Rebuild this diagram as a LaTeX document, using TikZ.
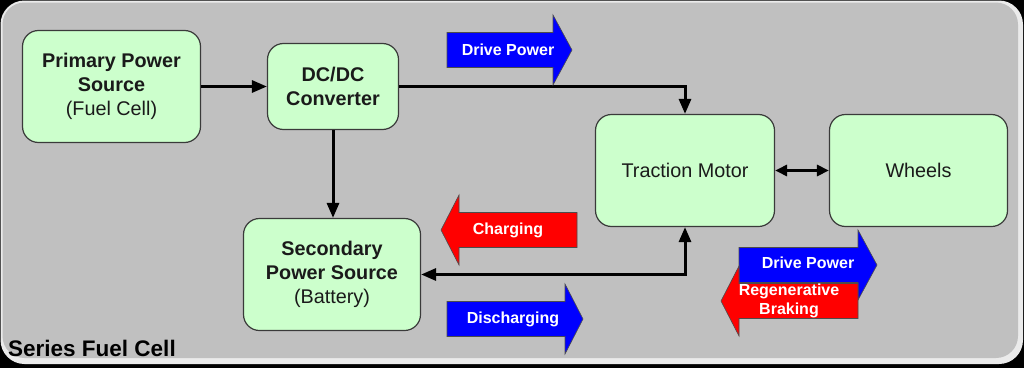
\documentclass[tikz,border=0pt]{standalone}
\usepackage{fontspec}
\setmainfont{Liberation Sans}
\usepackage{tikz}
\usetikzlibrary{arrows.meta,positioning,calc}
\definecolor{BoxGreen}{HTML}{CCFFCC}
\definecolor{BoxEdge}{HTML}{3A3A3A}
\definecolor{Panel}{HTML}{C0C0C0}
\definecolor{PanelRim}{HTML}{EBEBEB}
\definecolor{Ink}{HTML}{1A1A1A}

\begin{document}
\begin{tikzpicture}[x=1pt,y=1pt,>={Triangle[length=15pt,width=12pt]}]
  \tikzset{unit/.style={draw=BoxEdge,line width=1.2pt,rounded corners=16pt,fill=BoxGreen,text=Ink,align=center,inner sep=0pt,font=\fontsize{19.8}{24}\selectfont},
           flow/.style={line width=3pt,black},
           tag/.style={text=white,align=center,font=\fontsize{16}{19}\selectfont\bfseries}}
  % panel
  \fill[black] (0,0) rectangle (1024,368);
  \fill[PanelRim,rounded corners=24pt] (0.5,4) rectangle (1023,367.5);
  \fill[Panel,rounded corners=22pt] (2.5,10) rectangle (1018,365.5);
  \useasboundingbox (0,0) rectangle (1024,368);
  % blocks
  \node[unit,minimum width=178pt,minimum height=112pt] (fc) at (111.5,281.5) {\textbf{Primary Power}\\\textbf{Source}\\(Fuel Cell)};
  \node[unit,minimum width=131pt,minimum height=86pt] (dc) at (333,281.5) {\textbf{DC/DC}\\\textbf{Converter}};
  \node[unit,minimum width=177pt,minimum height=112pt] (bat) at (332,93.5) {\textbf{Secondary}\\\textbf{Power Source}\\(Battery)};
  \node[unit,minimum width=179pt,minimum height=112pt] (tm) at (685,197.5) {Traction Motor};
  \node[unit,minimum width=178pt,minimum height=112pt] (wh) at (918.5,197.5) {Wheels};
  % connectors
  \draw[flow,->] (fc) -- (dc);
  \draw[flow,->] (dc.east) -| (tm.north);
  \draw[flow,->] (dc.south) -- (dc.south |- bat.north);
  \draw[flow,<->] (bat.east) -| (tm.south);
  \draw[flow,<->,>={Triangle[length=12pt,width=11pt]}] (tm) -- (wh);
  % block arrows: tail x / head base x / tip x / centre y / colour
  \foreach \tl/\bs/\tp/\yc/\col in {447/553/572/318/blue, 577/459/441/138/red, 447/565/583/49/blue, 739/858/877/103/blue, 858/739/721/67/red}
    \filldraw[fill=\col,draw=black!70,line width=0.6pt] (\tl,\yc-17.5) -- (\bs,\yc-17.5) -- (\bs,\yc-35) -- (\tp,\yc) -- (\bs,\yc+35) -- (\bs,\yc+17.5) -- (\tl,\yc+17.5) -- cycle;
  \node[tag] (drivetop) at (508,318) {Drive Power};
  \node[tag] (charge) at (508,138) {Charging};
  \node[tag] (discharge) at (513,49) {Discharging};
  \node[tag] (drivelow) at (808,105) {Drive Power};
  \node[tag] (regen) at (789,67.5) {Regenerative\\Braking};
  \node[anchor=west,text=black,font=\fontsize{22.5}{26}\selectfont\bfseries,inner sep=0pt] (title) at (8,20) {Series Fuel Cell};
\end{tikzpicture}
\end{document}
